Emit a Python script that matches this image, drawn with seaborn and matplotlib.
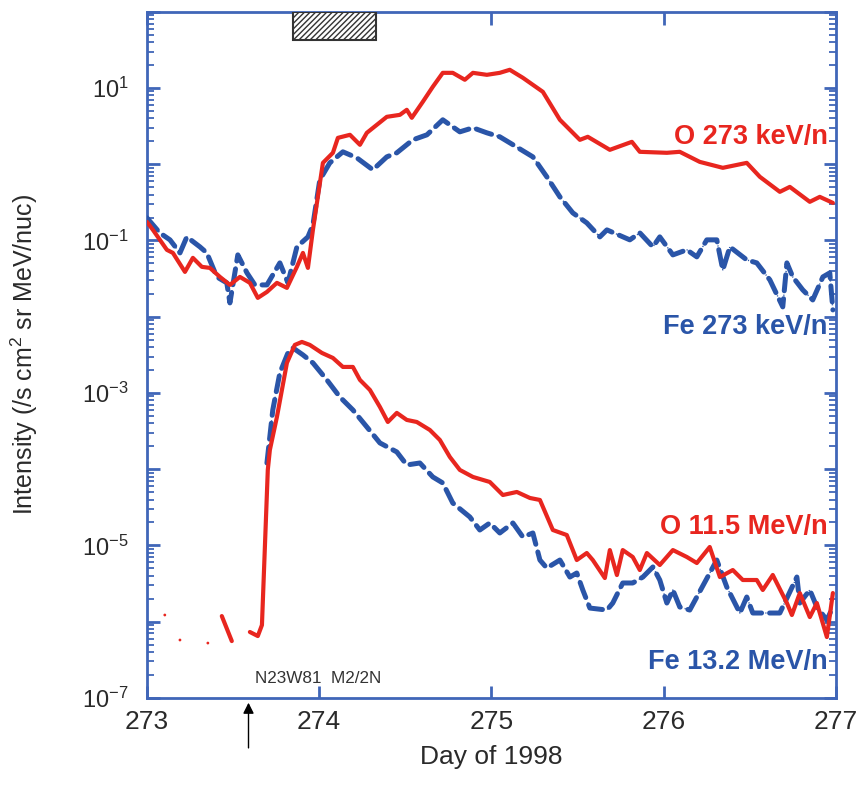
import numpy as np
import pandas as pd
import seaborn as sns
import matplotlib.pyplot as plt
import matplotlib.transforms as mtransforms
from matplotlib.patches import Rectangle
from matplotlib.ticker import LogLocator, FuncFormatter, NullFormatter

# ---- data: day of year and log10 intensity (/s cm^2 sr MeV/nuc) ----
o273_day = [273.000, 273.035, 273.116, 273.151, 273.221, 273.267, 273.319, 273.366, 273.424, 273.482,
            273.540, 273.598, 273.644, 273.697, 273.755, 273.813, 273.871, 273.906, 273.935, 273.964,
            274.022, 274.080, 274.109, 274.179, 274.237, 274.277, 274.393, 274.469, 274.509, 274.538,
            274.602, 274.660, 274.718, 274.776, 274.846, 274.893, 274.974, 275.049, 275.107, 275.183,
            275.299, 275.398, 275.514, 275.560, 275.688, 275.816, 275.862, 276.019, 276.094, 276.210,
            276.344, 276.483, 276.559, 276.675, 276.733, 276.849, 276.907, 276.983]
o273_log = [-0.756, -0.861, -1.123, -1.163, -1.412, -1.228, -1.346, -1.360, -1.478, -1.583,
            -1.478, -1.556, -1.753, -1.675, -1.556, -1.622, -1.346, -1.163, -1.360, -0.861,
            0.018, 0.150, 0.346, 0.386, 0.255, 0.412, 0.622, 0.648, 0.714, 0.609,
            0.819, 1.016, 1.199, 1.199, 1.108, 1.199, 1.173, 1.199, 1.239, 1.134,
            0.950, 0.583, 0.320, 0.360, 0.189, 0.294, 0.163, 0.150, 0.163, 0.031,
            -0.047, 0.018, -0.165, -0.362, -0.297, -0.493, -0.428, -0.507]

fe273_day = [273.000, 273.075, 273.134, 273.192, 273.232, 273.308, 273.348, 273.406, 273.464, 273.482,
             273.528, 273.581, 273.627, 273.697, 273.772, 273.819, 273.871, 273.935, 273.964, 274.004,
             274.062, 274.138, 274.219, 274.312, 274.393, 274.451, 274.544, 274.626, 274.718, 274.817,
             274.893, 274.974, 275.049, 275.107, 275.241, 275.322, 275.398, 275.473, 275.554, 275.630,
             275.671, 275.804, 275.862, 275.938, 275.978, 276.054, 276.135, 276.193, 276.251, 276.309,
             276.344, 276.385, 276.483, 276.541, 276.617, 276.692, 276.716, 276.750, 276.808, 276.866,
             276.925, 276.965, 276.983]
fe273_log = [-0.703, -0.900, -0.992, -1.163, -0.953, -1.084, -1.163, -1.478, -1.556, -1.819,
             -1.189, -1.425, -1.583, -1.583, -1.294, -1.556, -1.084, -0.953, -0.795, -0.205,
             0.018, 0.163, 0.084, -0.073, 0.097, 0.150, 0.320, 0.386, 0.583, 0.425,
             0.478, 0.412, 0.360, 0.281, 0.097, -0.165, -0.428, -0.638, -0.769, -0.953,
             -0.861, -0.992, -0.900, -1.084, -0.953, -1.189, -1.123, -1.215, -0.992, -0.992,
             -1.386, -1.084, -1.255, -1.294, -1.517, -1.871, -1.294, -1.478, -1.648, -1.780,
             -1.478, -1.425, -1.911]

# O 11.5 MeV/n: isolated pre-event points, a short fragment, then the main profile
o115_dot_day = [273.104, 273.192, 273.354]
o115_dot_log = [-5.913, -6.241, -6.281]
o115_frag_day = [273.435, 273.493]
o115_frag_log = [-5.927, -6.255]
o115_day = [273.598, 273.644, 273.668, 273.702, 273.714, 273.755, 273.813, 273.859, 273.900, 273.946,
            274.016, 274.080, 274.138, 274.196, 274.237, 274.295, 274.353, 274.399, 274.451, 274.509,
            274.567, 274.643, 274.701, 274.759, 274.817, 274.893, 274.991, 275.067, 275.148, 275.224,
            275.282, 275.357, 275.438, 275.496, 275.554, 275.589, 275.659, 275.688, 275.729, 275.763,
            275.821, 275.862, 275.903, 275.978, 276.054, 276.135, 276.193, 276.268, 276.327, 276.402,
            276.460, 276.541, 276.576, 276.634, 276.716, 276.745, 276.791, 276.849, 276.890, 276.948,
            276.983]
o115_log = [-6.136, -6.189, -6.045, -4.010, -3.748, -3.315, -2.606, -2.370, -2.331, -2.370,
            -2.475, -2.541, -2.659, -2.659, -2.829, -2.961, -3.184, -3.381, -3.262, -3.354,
            -3.381, -3.486, -3.617, -3.840, -4.010, -4.102, -4.168, -4.339, -4.299, -4.378,
            -4.404, -4.798, -4.864, -5.192, -5.100, -5.192, -5.428, -5.061, -5.389, -5.061,
            -5.152, -5.323, -5.100, -5.257, -5.061, -5.152, -5.231, -5.021, -5.415, -5.323,
            -5.454, -5.454, -5.585, -5.388, -5.756, -5.913, -5.625, -5.940, -5.756, -6.202,
            -5.625]

fe132_day = [273.697, 273.731, 273.772, 273.819, 273.848, 273.906, 273.964, 274.045, 274.120, 274.196,
             274.277, 274.353, 274.451, 274.509, 274.585, 274.660, 274.718, 274.776, 274.875, 274.933,
             274.991, 275.049, 275.125, 275.183, 275.241, 275.282, 275.322, 275.398, 275.456, 275.496,
             275.531, 275.572, 275.671, 275.705, 275.763, 275.821, 275.880, 275.938, 275.978, 276.019,
             276.054, 276.094, 276.152, 276.309, 276.367, 276.443, 276.483, 276.518, 276.576, 276.675,
             276.774, 276.791, 276.849, 276.890, 276.948, 276.983]
fe132_log = [-3.919, -3.223, -2.738, -2.475, -2.409, -2.501, -2.606, -2.829, -3.052, -3.223,
             -3.446, -3.656, -3.774, -3.945, -3.919, -4.102, -4.181, -4.444, -4.627, -4.798,
             -4.706, -4.837, -4.706, -4.890, -4.837, -5.192, -5.297, -5.192, -5.415, -5.362,
             -5.585, -5.822, -5.848, -5.756, -5.493, -5.493, -5.415, -5.283, -5.454, -5.756,
             -5.585, -5.808, -5.848, -5.192, -5.546, -5.887, -5.677, -5.887, -5.887, -5.887,
             -5.415, -5.756, -5.585, -5.808, -5.979, -5.808]

x_ticks = [273, 274, 275, 276, 277]
series_labels = ["O 273 keV/n", "Fe 273 keV/n", "O 11.5 MeV/n", "Fe 13.2 MeV/n"]
series_label_log = [0.36, -2.134, -4.76, -6.53]
flare_text = "N23W81  M2/2N"
flare_day = 273.59
shock_window = (273.85, 274.33)

# ---- style ----
RED = "#e8261f"
BLUE = "#2a55a8"
AXBLUE = "#4066b8"
TXT = "#2a2a2a"

sns.set_theme(style="white")
plt.rcParams['font.family'] = ['Liberation Sans', 'DejaVu Sans']
plt.rcParams['mathtext.fontset'] = 'custom'
plt.rcParams['mathtext.rm'] = 'Liberation Sans'
plt.rcParams['mathtext.it'] = 'Liberation Sans'
plt.rcParams['hatch.linewidth'] = 1.0
plt.rcParams['hatch.color'] = '#333333'

fig = plt.figure(figsize=(8.59, 7.85), dpi=100)
ax = fig.add_axes([0.171, 0.111, 0.802, 0.874])


def inten(lg):
    return np.power(10.0, np.asarray(lg))


def solid(days, lg):
    sns.lineplot(x=days, y=inten(lg), ax=ax, color=RED, lw=3.0,
                 estimator=None, sort=False, solid_joinstyle='round', zorder=4)


def dashdot(days, lg):
    # faint thin trace carrying the small dots between dashes
    sns.lineplot(x=days, y=inten(lg), ax=ax, color=BLUE, lw=1.0,
                 linestyle=(0, (0.8, 3.5)), estimator=None, sort=False, zorder=2)
    sns.lineplot(x=days, y=inten(lg), ax=ax, color=BLUE, lw=3.6,
                 linestyle=(0, (3.2, 1.6)), estimator=None, sort=False,
                 dash_capstyle='round', zorder=3)


dashdot(fe273_day, fe273_log)
solid(o273_day, o273_log)
dashdot(fe132_day, fe132_log)
solid(o115_frag_day, o115_frag_log)
solid(o115_day, o115_log)
sns.scatterplot(x=o115_dot_day, y=inten(o115_dot_log), ax=ax, color=RED, s=4,
                edgecolor='none', zorder=4)

ax.set_yscale('log')
ax.set_xlim(273, 277)
ax.set_ylim(1e-7, 1e2)

ax.set_xticks(x_ticks)
ax.set_xticklabels([str(t) for t in x_ticks])
ax.yaxis.set_major_locator(LogLocator(base=10, numticks=20))
ax.yaxis.set_minor_locator(LogLocator(base=10, subs=np.arange(2, 10), numticks=20))


def fmt(v, pos):
    e = int(round(np.log10(v)))
    return r'$10^{%d}$' % e if e % 2 else ''


ax.yaxis.set_major_formatter(FuncFormatter(fmt))
ax.yaxis.set_minor_formatter(NullFormatter())

ax.tick_params(which='both', direction='in', top=True, right=True, bottom=True, left=True,
               color=AXBLUE, labelcolor=TXT)
ax.tick_params(which='major', length=9, width=2)
ax.tick_params(which='minor', length=5, width=1.3)
ax.tick_params(axis='x', pad=9, labelsize=19)
ax.tick_params(axis='y', pad=13, labelsize=17)
for s in ax.spines.values():
    s.set_color(AXBLUE)
    s.set_linewidth(2)

ax.set_xlabel("Day of 1998", fontsize=19, color=TXT, labelpad=8)
ax.set_ylabel(r"Intensity (/s cm$^{2}$ sr MeV/nuc)", fontsize=18, color=TXT)
ax.yaxis.set_label_coords(-0.155, 0.5)

# series labels, right-aligned inside the plot
trans_x = mtransforms.blended_transform_factory(ax.transAxes, ax.transData)
label_colors = [RED, BLUE, RED, BLUE]
for txt, lg, c in zip(series_labels, series_label_log, label_colors):
    ax.text(0.988, inten(lg), txt, transform=trans_x, ha='right', va='center',
            fontsize=19.5, fontweight='bold', color=c, zorder=6)

# shaded interval at the top of the panel
trans_xa = mtransforms.blended_transform_factory(ax.transData, ax.transAxes)
ax.add_patch(Rectangle((shock_window[0], 0.959), shock_window[1] - shock_window[0], 0.041,
                       transform=trans_xa, facecolor='white', edgecolor='#333333',
                       hatch='//////', lw=1.5, zorder=5))

# flare onset marker
ax.annotate('', xy=(flare_day, -0.003), xycoords=trans_xa,
            xytext=(flare_day, -0.077), textcoords=trans_xa,
            arrowprops=dict(arrowstyle='-|>', color='black', lw=1.0, mutation_scale=16),
            annotation_clip=False)
ax.text(flare_day + 0.04, 0.028, flare_text, transform=trans_xa, fontsize=12.3,
        color='#333333', ha='left', va='center')

fig.savefig('out.png', dpi=100)
